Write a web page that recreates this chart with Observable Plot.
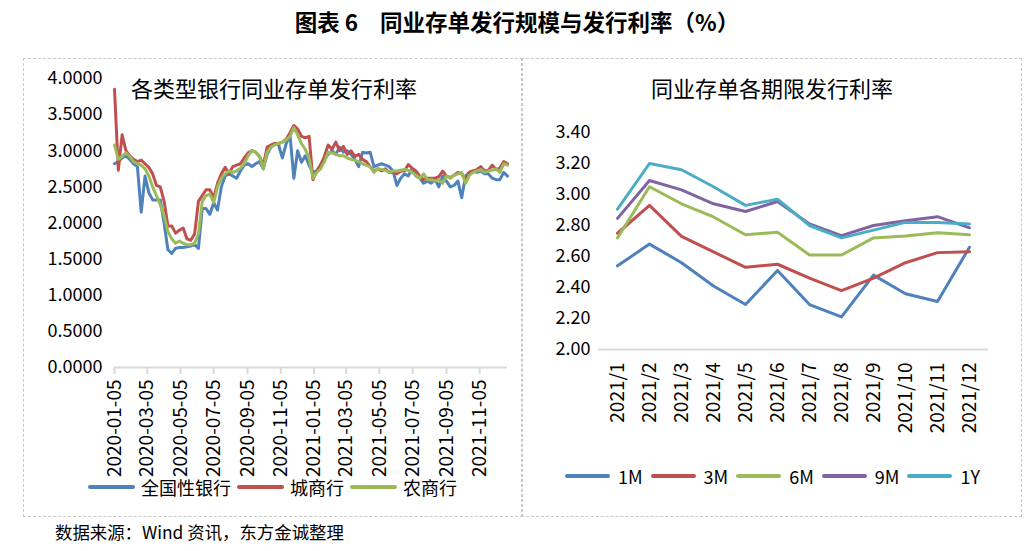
<!DOCTYPE html>
<html><head><meta charset="utf-8">
<script src="https://cdn.jsdelivr.net/npm/d3@7"></script>
<script src="https://cdn.jsdelivr.net/npm/@observablehq/plot@0.6"></script>
<style>
body{margin:0;background:#fff;font-family:"Noto Sans CJK SC","Noto Sans",sans-serif;}
#wrap{position:relative;width:1034px;height:551px;overflow:hidden;}
.abs{position:absolute;white-space:nowrap;line-height:1;}
.panel{position:absolute;width:500px;}
.box{position:absolute;border:1px dashed #c8c8c8;pointer-events:none;}
.leg{position:absolute;display:flex;align-items:center;font-size:18px;line-height:1;white-space:nowrap;}
.sw{display:inline-block;height:4px;border-radius:2px;}
</style></head><body><div id="wrap"></div>
<script>
// ---- left panel data: weekly issuance rates (%), weeks starting 2020-01-05 ----
const startDate = "2020-01-05";
const nationalBank = [
 2.82,2.85,2.90,2.93,2.88,2.82,2.78,2.15,2.65,2.42,
 2.32,2.32,2.32,2.00,1.63,1.58,1.65,1.66,1.66,1.67,
 1.68,1.70,1.65,2.20,2.20,2.12,2.28,2.18,2.50,2.65,
 2.68,2.65,2.62,2.72,2.80,2.82,2.78,2.82,2.85,2.75,
 2.95,3.05,3.10,3.08,2.90,3.10,3.22,2.62,3.00,2.84,
 2.93,2.80,2.70,2.72,2.80,2.88,2.95,3.00,2.95,3.05,
 2.98,3.00,2.95,2.88,2.78,2.98,2.97,2.98,2.78,2.80,
 2.82,2.80,2.78,2.72,2.52,2.62,2.68,2.65,2.75,2.65,
 2.62,2.55,2.58,2.55,2.60,2.50,2.65,2.58,2.50,2.52,
 2.58,2.35,2.65,2.70,2.72,2.70,2.72,2.68,2.68,2.62,
 2.60,2.60,2.70,2.65];
const cityBank = [
 3.85,2.73,3.22,3.00,2.93,2.88,2.85,2.87,2.82,2.77,
 2.68,2.52,2.50,2.30,1.96,1.96,1.86,1.90,1.93,1.78,
 1.76,1.85,2.30,2.38,2.46,2.46,2.35,2.55,2.68,2.77,
 2.68,2.78,2.80,2.82,2.90,2.97,3.00,2.98,2.92,2.80,
 3.05,3.08,3.10,3.10,3.12,3.16,3.25,3.35,3.30,3.20,
 3.18,3.20,2.60,2.72,2.80,2.92,3.08,3.02,3.12,3.00,
 3.06,2.95,3.00,2.92,2.95,2.88,2.85,2.78,2.72,2.75,
 2.72,2.75,2.70,2.70,2.68,2.72,2.72,2.81,2.76,2.72,
 2.65,2.60,2.62,2.62,2.62,2.64,2.72,2.65,2.63,2.66,
 2.70,2.68,2.60,2.70,2.72,2.74,2.78,2.72,2.73,2.80,
 2.74,2.76,2.85,2.82];
const ruralBank = [
 3.08,2.88,2.92,2.97,2.92,2.85,2.82,2.80,2.75,2.65,
 2.50,2.38,2.25,2.10,1.88,1.78,1.72,1.75,1.72,1.70,
 1.70,1.72,1.85,2.30,2.38,2.40,2.28,2.50,2.62,2.68,
 2.72,2.70,2.72,2.76,2.82,2.93,3.00,2.98,2.92,2.75,
 2.98,3.05,3.08,3.10,3.12,3.15,3.20,3.32,3.22,3.10,
 3.02,2.90,2.62,2.70,2.75,2.85,2.98,2.97,2.95,2.93,
 2.93,2.90,2.88,2.87,2.85,2.82,2.80,2.78,2.70,2.75,
 2.74,2.73,2.70,2.72,2.72,2.73,2.74,2.73,2.70,2.66,
 2.62,2.68,2.60,2.60,2.58,2.60,2.55,2.65,2.62,2.66,
 2.68,2.70,2.55,2.66,2.70,2.72,2.74,2.70,2.72,2.73,
 2.75,2.70,2.82,2.80];
const leftNames = ["全国性银行","城商行","农商行"];
const leftTicks = ["2020-01-05","2020-03-05","2020-05-05","2020-07-05","2020-09-05","2020-11-05",
                   "2021-01-05","2021-03-05","2021-05-05","2021-07-05","2021-09-05","2021-11-05"];
const leftYTicks = [0,0.5,1,1.5,2,2.5,3,3.5,4];

// ---- right panel data: monthly rates by tenor (%) ----
const months = ["2021/1","2021/2","2021/3","2021/4","2021/5","2021/6","2021/7","2021/8","2021/9","2021/10","2021/11","2021/12"];
const r1M = [2.54,2.68,2.56,2.41,2.29,2.51,2.29,2.21,2.48,2.36,2.31,2.66];
const r3M = [2.75,2.93,2.73,2.63,2.53,2.55,2.46,2.38,2.46,2.56,2.625,2.63];
const r6M = [2.72,3.05,2.94,2.855,2.74,2.757,2.61,2.61,2.72,2.733,2.753,2.74];
const r9M = [2.846,3.09,3.03,2.94,2.89,2.955,2.81,2.735,2.80,2.83,2.857,2.785];
const r1Y = [2.905,3.20,3.16,3.05,2.93,2.97,2.80,2.72,2.77,2.82,2.82,2.81];
const tenorNames = ["1M","3M","6M","9M","1Y"];
const rightYTicks = [2.0,2.2,2.4,2.6,2.8,3.0,3.2,3.4];

const colors = ["#4F81BD","#C0504D","#9BBB59","#8064A2","#4BACC6"];
const FONT = '"Noto Sans CJK SC","Noto Sans",sans-serif';

const wrap = document.getElementById("wrap");
function addDiv(html, cls, css){ const d=document.createElement("div"); d.className=cls; d.innerHTML=html; Object.assign(d.style, css); wrap.appendChild(d); return d; }

// left chart
const t0 = new Date(startDate + "T00:00:00Z");
const weeks = nationalBank.map((_, i) => d3.utcDay.offset(t0, 7 * i));
const leftSeries = [nationalBank, cityBank, ruralBank];
const leftData = leftSeries.flatMap((vals, k) => vals.map((v, i) => ({date: weeks[i], v, s: leftNames[k]})));

const leftPlot = Plot.plot({
  width: 500, height: 430,
  marginLeft: 92, marginRight: 15, marginTop: 20, marginBottom: 121,
  style: {fontFamily: FONT, background: "transparent", color: "#000", overflow: "visible"},
  x: {type: "utc", domain: [weeks[0], weeks[weeks.length - 1]]},
  y: {domain: [0, 4]},
  color: {domain: leftNames, range: colors.slice(0, 3)},
  marks: [
    Plot.ruleY([0], {stroke: "#d9d9d9", strokeWidth: 2}),
    Plot.axisY(leftYTicks, {tickSize: 0, tickPadding: 12, tickFormat: d3.format(".4f"), fontSize: 18, label: null}),
    Plot.axisX(leftTicks.map(d => new Date(d + "T00:00:00Z")), {tickRotate: -90, tickSize: 7, stroke: "#d9d9d9", strokeWidth: 2, tickPadding: 5, fill: "#000", tickFormat: d3.utcFormat("%Y-%m-%d"), fontSize: 19, label: null}),
    Plot.lineY(leftData, {x: "date", y: "v", z: "s", stroke: "s", strokeWidth: 3, strokeLinejoin: "round"})
  ]
});
const lp = addDiv("", "panel", {left: "22px", top: "58px"});
lp.appendChild(leftPlot);

// right chart
const rightSeries = [r1M, r3M, r6M, r9M, r1Y];
const rightData = rightSeries.flatMap((vals, k) => vals.map((v, i) => ({m: months[i], v, s: tenorNames[k]})));
const rightPlot = Plot.plot({
  width: 500, height: 430,
  marginLeft: 76, marginRight: 34, marginTop: 74, marginBottom: 139,
  style: {fontFamily: FONT, background: "transparent", color: "#000", overflow: "visible"},
  x: {type: "point", domain: months, padding: 0.5},
  y: {domain: [2.0, 3.4]},
  color: {domain: tenorNames, range: colors},
  marks: [
    Plot.ruleY([2.0], {stroke: "#d9d9d9", strokeWidth: 2}),
    Plot.axisY(rightYTicks, {tickSize: 0, tickPadding: 8, tickFormat: d3.format(".2f"), fontSize: 18, label: null}),
    Plot.axisX({tickRotate: -90, tickSize: 0, tickPadding: 13, fontSize: 19, label: null}),
    Plot.lineY(rightData, {x: "m", y: "v", z: "s", stroke: "s", strokeWidth: 3, strokeLinejoin: "round"})
  ]
});
const rp = addDiv("", "panel", {left: "522px", top: "58px"});
rp.appendChild(rightPlot);

// frames
addDiv("", "box", {left: "23px", top: "58px", width: "498px", height: "457px"});
addDiv("", "box", {left: "521px", top: "58px", width: "499px", height: "457px", borderLeft: "1px dashed #c8c8c8"});

// titles
addDiv('图表 6<span style="display:inline-block;width:22px"></span>同业存单发行规模与发行利率（%）', "abs", {left: "0", width: "1034px", textAlign: "center", top: "10px", fontSize: "22.5px", fontWeight: "bold"});
addDiv("各类型银行同业存单发行利率", "abs", {left: "131px", top: "76px", fontSize: "22px"});
addDiv("同业存单各期限发行利率", "abs", {left: "522px", width: "500px", textAlign: "center", top: "76px", fontSize: "22px"});
addDiv("数据来源：Wind 资讯，东方金诚整理", "abs", {left: "55px", top: "523px", fontSize: "17.4px"});

// legends
function legend(names, cols, left, top, swW, gapIn, gapOut){
  const L = addDiv("", "leg", {left: left + "px", top: top + "px"});
  names.forEach((n, i) => {
    const s = document.createElement("span"); s.className = "sw";
    Object.assign(s.style, {width: swW + "px", background: cols[i], marginRight: gapIn + "px", marginLeft: (i ? gapOut : 0) + "px"});
    const t = document.createElement("span"); t.textContent = n;
    L.appendChild(s); L.appendChild(t);
  });
}
legend(leftNames, colors, 88, 478, 47, 6, 6);
legend(tenorNames, colors, 565, 467, 45, 8, 8);
</script></body></html>
